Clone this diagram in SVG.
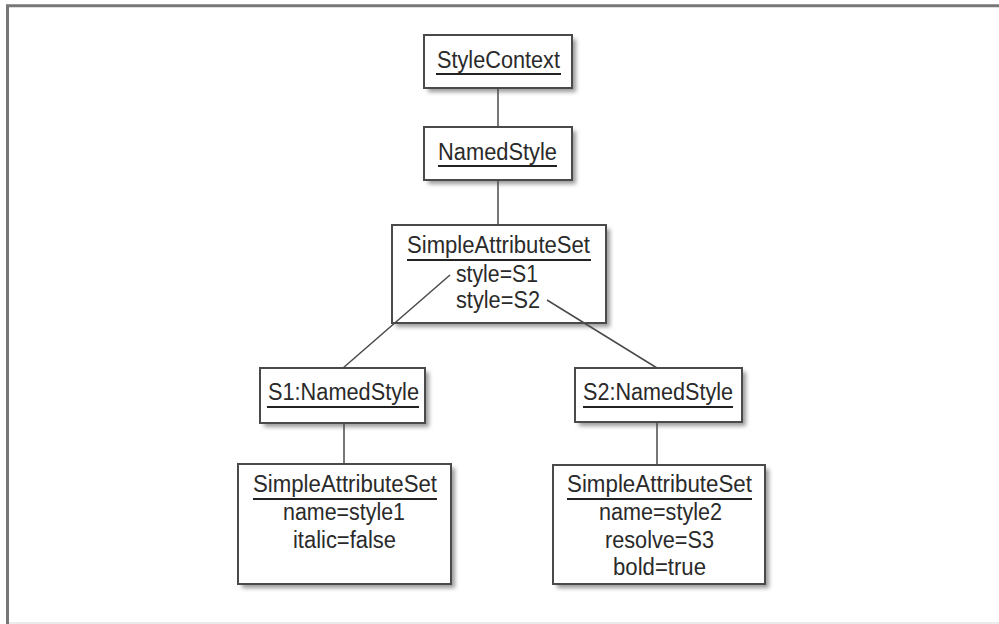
<svg xmlns="http://www.w3.org/2000/svg" width="999" height="624" viewBox="0 0 999 624">
<style>
.box{fill:#fff;stroke:#4a4a4a;stroke-width:2}
.sh{fill:#9a9a9a;filter:url(#blur)}
.t{font-family:"Liberation Sans",Arial,sans-serif;font-size:23.5px;fill:#2a2a2a;text-anchor:middle}
.ul{stroke:#222;stroke-width:2.2}
.conn line{stroke:#4a4a4a;stroke-width:1.5}
.frame{fill:none;stroke:#777;stroke-width:3}
</style>
<defs>
<filter id="blur" x="-20%" y="-20%" width="140%" height="140%"><feGaussianBlur stdDeviation="2"/></filter>
</defs>
<rect width="999" height="624" fill="#fff"/>
<path class="frame" d="M7.5,624 V5.8 H999"/>
<line x1="9" y1="623" x2="999" y2="623" stroke="#e4e4e4" stroke-width="1.5"/>

<g id="styleContext">
<rect class="sh" x="428" y="39" width="148" height="53"/>
<rect class="box" x="424" y="35" width="148" height="53"/>
<text class="t" x="498.5" y="68" textLength="123" lengthAdjust="spacingAndGlyphs">StyleContext</text>
<line class="ul" x1="436" y1="74" x2="561" y2="74"/>
</g>

<g id="namedStyle">
<rect class="sh" x="428" y="131" width="148" height="53"/>
<rect class="box" x="424" y="127" width="148" height="53"/>
<text class="t" x="497.5" y="160" textLength="119" lengthAdjust="spacingAndGlyphs">NamedStyle</text>
<line class="ul" x1="438" y1="166" x2="557" y2="166"/>
</g>

<g id="sas">
<rect class="sh" x="396" y="229" width="214" height="98"/>
<rect class="box" x="392" y="225" width="214" height="98"/>
<text class="t" x="498.5" y="253" textLength="183" lengthAdjust="spacingAndGlyphs">SimpleAttributeSet</text>
<line class="ul" x1="407" y1="260" x2="591" y2="260"/>
<text class="t" x="497" y="282" textLength="82" lengthAdjust="spacingAndGlyphs">style=S1</text>
<text class="t" x="498" y="308" textLength="84" lengthAdjust="spacingAndGlyphs">style=S2</text>
</g>

<g id="s1">
<rect class="sh" x="264" y="372" width="165" height="55"/>
<rect class="box" x="260" y="368" width="165" height="55"/>
<text class="t" x="343.5" y="400" textLength="151" lengthAdjust="spacingAndGlyphs">S1:NamedStyle</text>
<line class="ul" x1="267" y1="407" x2="419" y2="407"/>
</g>

<g id="s2">
<rect class="sh" x="579" y="372" width="167" height="54"/>
<rect class="box" x="575" y="368" width="167" height="54"/>
<text class="t" x="658" y="400" textLength="150" lengthAdjust="spacingAndGlyphs">S2:NamedStyle</text>
<line class="ul" x1="583" y1="407" x2="733" y2="407"/>
</g>

<g id="sas1">
<rect class="sh" x="242" y="468" width="213" height="120"/>
<rect class="box" x="238" y="464" width="213" height="120"/>
<text class="t" x="345" y="492" textLength="184" lengthAdjust="spacingAndGlyphs">SimpleAttributeSet</text>
<line class="ul" x1="253" y1="499" x2="437" y2="499"/>
<text class="t" x="344" y="520" textLength="122" lengthAdjust="spacingAndGlyphs">name=style1</text>
<text class="t" x="344.5" y="548" textLength="103" lengthAdjust="spacingAndGlyphs">italic=false</text>
</g>

<g id="sas2">
<rect class="sh" x="557" y="469" width="212" height="119"/>
<rect class="box" x="553" y="465" width="212" height="119"/>
<text class="t" x="659.5" y="492" textLength="185" lengthAdjust="spacingAndGlyphs">SimpleAttributeSet</text>
<line class="ul" x1="567" y1="499" x2="752" y2="499"/>
<text class="t" x="660.5" y="520" textLength="123" lengthAdjust="spacingAndGlyphs">name=style2</text>
<text class="t" x="659.5" y="548" textLength="109" lengthAdjust="spacingAndGlyphs">resolve=S3</text>
<text class="t" x="659.5" y="575" textLength="93" lengthAdjust="spacingAndGlyphs">bold=true</text>
</g>

<g class="conn">
<line x1="498" y1="88" x2="498" y2="127"/>
<line x1="498" y1="180" x2="498" y2="225"/>
<line x1="450" y1="275" x2="343" y2="368"/>
<line x1="547" y1="300" x2="657" y2="368"/>
<line x1="344" y1="423" x2="344" y2="464"/>
<line x1="657" y1="422" x2="657" y2="465"/>
</g>
</svg>
